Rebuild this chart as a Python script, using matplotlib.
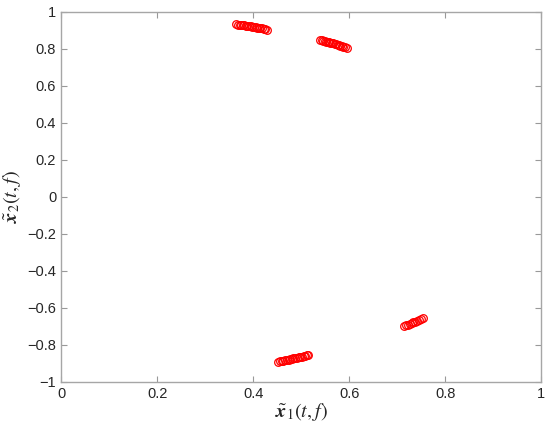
import matplotlib
matplotlib.use("Agg")
import matplotlib.pyplot as plt

c1_x = [0.365, 0.368, 0.372, 0.375, 0.378, 0.382, 0.385, 0.388, 0.392, 0.395,
        0.398, 0.402, 0.405, 0.408, 0.412, 0.415, 0.418, 0.422, 0.425, 0.429]
c1_y = [0.932, 0.931, 0.930, 0.929, 0.928, 0.926, 0.925, 0.924, 0.922, 0.921,
        0.920, 0.918, 0.917, 0.915, 0.914, 0.912, 0.910, 0.908, 0.906, 0.903]
c2_x = [0.540, 0.543, 0.546, 0.549, 0.552, 0.555, 0.558, 0.561, 0.564, 0.567,
        0.570, 0.573, 0.576, 0.579, 0.582, 0.585, 0.588, 0.591, 0.595]
c2_y = [0.847, 0.845, 0.843, 0.841, 0.839, 0.837, 0.835, 0.833, 0.831, 0.829,
        0.827, 0.824, 0.822, 0.820, 0.817, 0.814, 0.811, 0.808, 0.804]
c3_x = [0.452, 0.456, 0.460, 0.463, 0.467, 0.470, 0.474, 0.477, 0.481, 0.484,
        0.488, 0.491, 0.495, 0.498, 0.502, 0.505, 0.509, 0.512, 0.515]
c3_y = [-0.891, -0.889, -0.887, -0.885, -0.883, -0.881, -0.879, -0.877, -0.875, -0.873,
        -0.871, -0.869, -0.867, -0.865, -0.863, -0.861, -0.859, -0.857, -0.855]
c4_x = [0.714, 0.718, 0.722, 0.726, 0.730, 0.734, 0.738, 0.742, 0.746, 0.750, 0.754]
c4_y = [-0.699, -0.695, -0.690, -0.686, -0.682, -0.678, -0.674, -0.670, -0.666, -0.661, -0.657]

xticks = [0, 0.2, 0.4, 0.6, 0.8, 1]
xticklabels = ["0", "0.2", "0.4", "0.6", "0.8", "1"]
yticks = [-1, -0.8, -0.6, -0.4, -0.2, 0, 0.2, 0.4, 0.6, 0.8, 1]
yticklabels = ["\u22121", "\u22120.8", "\u22120.6", "\u22120.4", "\u22120.2", "0",
               "0.2", "0.4", "0.6", "0.8", "1"]

plt.rcParams["font.family"] = ["Liberation Sans", "DejaVu Sans"]
plt.rcParams["mathtext.fontset"] = "stix"

fig = plt.figure(figsize=(5.5, 4.36), dpi=100)
ax = fig.add_axes([0.111, 0.124, 0.873, 0.849])

for xs, ys in [(c1_x, c1_y), (c2_x, c2_y), (c3_x, c3_y), (c4_x, c4_y)]:
    ax.plot(xs, ys, linestyle="none", marker="o", markersize=5.5,
            markerfacecolor="none", markeredgecolor="red", markeredgewidth=0.9)

ax.set_xlim(0, 1)
ax.set_ylim(-1, 1)
ax.set_xticks(xticks)
ax.set_xticklabels(xticklabels)
ax.set_yticks(yticks)
ax.set_yticklabels(yticklabels)
ax.tick_params(direction="in", top=True, right=True, length=4, width=0.8,
               color="#999999", labelsize=10.5, labelcolor="#262626")
for s in ax.spines.values():
    s.set_color("#a6a6a6")
    s.set_linewidth(1.0)

ax.set_xlabel(r"$\tilde{\mathbfit{x}}_1(t,f)$", fontsize=14.5, color="#262626", labelpad=0)
ax.set_ylabel(r"$\tilde{\mathbfit{x}}_2(t,f)$", fontsize=14.5, color="#262626", labelpad=3)

fig.savefig("out.png", dpi=100)
